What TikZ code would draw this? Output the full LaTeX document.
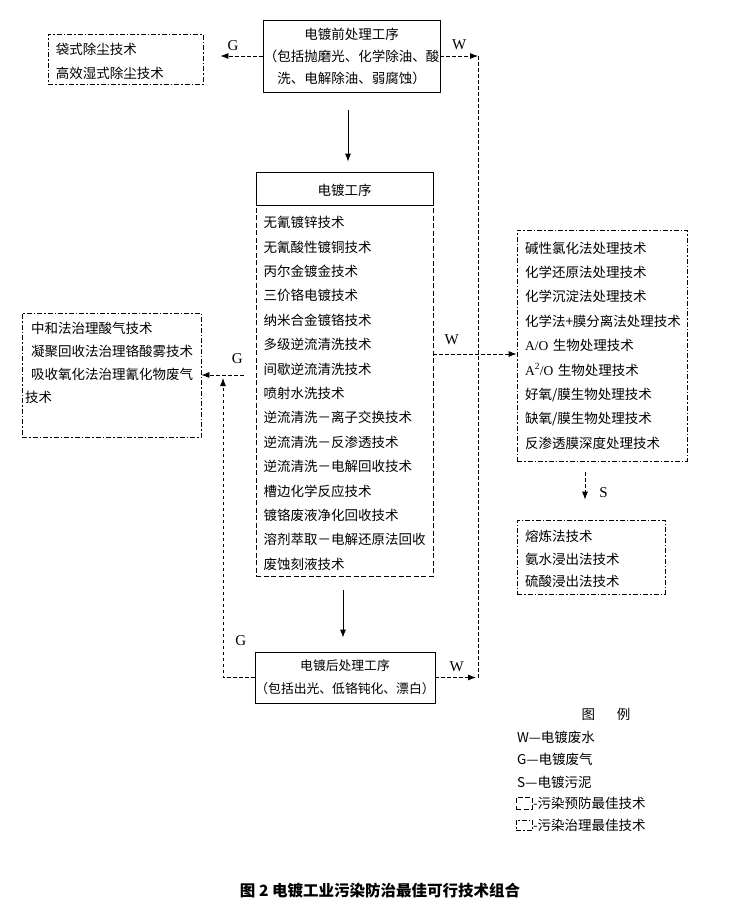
\documentclass[tikz,border=0pt]{standalone}
\usepackage{fontspec}
\setmainfont{Noto Sans CJK SC}
\newfontfamily\lat{Liberation Serif}
\usetikzlibrary{arrows.meta, positioning, calc}

\begin{document}
\begin{tikzpicture}[x=1pt, y=-1pt,
    every node/.style={font=\fontsize{13.5}{24.4}\selectfont, inner sep=0pt},
    lowtext/.style={execute at begin node={\rule{0pt}{#1}}},
    lowtext/.default=16pt,
    procbox/.style={draw, line width=0.8pt, align=center},
    prevbox/.style={draw, line width=0.8pt, dash pattern=on 5pt off 2.5pt},
    treatbox/.style={draw, line width=0.8pt, dash pattern=on 5pt off 2pt on 1.5pt off 2pt},
    wline/.style={line width=0.8pt, dash pattern=on 3.5pt off 2.5pt},
    flow/.style={wline, -{Latex[length=8pt,width=6pt]}},
    mainflow/.style={line width=0.8pt, -{Latex[length=8pt,width=6pt]}},
    lbl/.style={font=\lat\fontsize{15}{15}\selectfont},
  ]
    \useasboundingbox (0,0) rectangle (735,914);

    % Pre-treatment and dust removal
    \node[procbox, lowtext, font=\fontsize{13.5}{22}\selectfont, minimum width=177pt, minimum height=72pt] (pre) at (351.5,56)
        {电镀前处理工序\\（包括抛磨光、化学除油、酸\\洗、电解除油、弱腐蚀）};
    \node[treatbox, lowtext, align=left, inner xsep=8pt, text width=139pt, minimum height=50pt,
        font=\fontsize{13.5}{24}\selectfont] (dust) at (125.5,59) {袋式除尘技术\\高效湿式除尘技术};

    % Electroplating process
    \node[procbox, lowtext, minimum width=177pt, minimum height=33pt] (plate) at (344.5,188.5) {电镀工序};
    \node[prevbox, lowtext=17pt, align=left, inner xsep=7.5pt, text width=162pt, minimum height=371pt] (list) at (344.5,390.5)
        {无氰镀锌技术\\无氰酸性镀铜技术\\丙尔金镀金技术\\三价铬电镀技术\\纳米合金镀铬技术\\
         多级逆流清洗技术\\间歇逆流清洗技术\\喷射水洗技术\\逆流清洗－离子交换技术\\
         逆流清洗－反渗透技术\\逆流清洗－电解回收技术\\槽边化学反应技术\\
         镀铬废液净化回收技术\\溶剂萃取－电解还原法回收\\废蚀刻液技术};

    % Waste gas treatment
    \node[treatbox, inner xsep=3pt, inner ysep=9pt, font=\fontsize{13.5}{23}\selectfont] (gas) at (111.5,375)
        {\parbox[c][106pt][t]{173pt}{\hspace*{6pt}中和法治理酸气技术\\\hspace*{6pt}凝聚回收法治理铬酸雾技术\\
         \hspace*{6pt}吸收氧化法治理氰化物废气\\技术}};

    % Waste water treatment
    \node[treatbox, align=left, inner xsep=8pt, text width=154pt, minimum height=231pt] (treat) at (602,345.5)
        {碱性氯化法处理技术\\化学还原法处理技术\\化学沉淀法处理技术\\化学法+膜分离法处理技术\\
         {\lat A/O} 生物处理技术\\{\lat A\textsuperscript{2}/O} 生物处理技术\\好氧/膜生物处理技术\\
         缺氧/膜生物处理技术\\反渗透膜深度处理技术};

    % Sludge treatment
    \node[treatbox, lowtext, align=left, inner xsep=8pt, text width=132pt, minimum height=74pt,
        font=\fontsize{13.5}{22.5}\selectfont] (sludge) at (591,557) {熔炼法技术\\氨水浸出法技术\\硫酸浸出法技术};

    % Post-treatment
    \node[procbox, lowtext=17.5pt, font=\fontsize{12.8}{23}\selectfont, minimum width=180pt, minimum height=51pt] (post) at (345,677.5)
        {电镀后处理工序\\（包括出光、低铬钝化、漂白）};

    % Main flow
    \draw[mainflow, shorten <=18pt, shorten >=10pt] ([xshift=3.5pt]plate.north |- pre.south) -- ([xshift=3.5pt]plate.north);
    \draw[mainflow, shorten <=14pt, shorten >=14pt] ([xshift=-1.5pt]list.south) -- ([xshift=-1.5pt]list.south |- post.north);

    % Waste streams
    \coordinate (wtop) at (478,56);
    \coordinate (wbot) at (478,677.5);
    \coordinate (gup) at (223,378);
    \draw[flow, shorten >=17pt] (pre.west) -- node[lbl, above=5pt] (g1) {G} (pre.west -| dust.east);
    \draw[flow] (pre.east) -- node[lbl, above=6pt] (w1) {W} (wtop);
    \draw[wline] (wtop) -- (wbot);
    \draw[flow] ([yshift=36.5pt]list.east) -- node[lbl, above=9pt, pos=0.22] (w2) {W} ([yshift=36.5pt]list.east -| treat.west);
    \draw[flow, shorten <=12pt] ([yshift=15.5pt]list.west) -- node[lbl, above=11pt, pos=0.34] (g2) {G} ([yshift=15.5pt]list.west -| gas.east);
    \draw[flow] (post.west) -| node[lbl, above=31pt, pos=0.22] (g3) {G} (gup);
    \draw[flow, shorten >=2pt] (post.east) -- node[lbl, above=5pt] (w3) {W} (wbot);
    \draw[flow, shorten <=11pt, shorten >=20pt] ([xshift=-17pt]treat.south) -- node[lbl, right=14pt, yshift=-2pt] (s1) {S} ([xshift=-17pt]treat.south |- sludge.north);

    % Legend
    \node (legT) at (606,714) {图\hspace{1.6em}例};
    \node[anchor=west] (legW) at (517,737) {W—电镀废水};
    \node[anchor=west] (legG) at (517,759) {G—电镀废气};
    \node[anchor=west] (legS) at (517,782) {S—电镀污泥};
    \node[prevbox, minimum width=16pt, minimum height=12pt, anchor=west] (key1) at (516,803) {};
    \node[right=0pt of key1] (legP) {-污染预防最佳技术};
    \node[treatbox, minimum width=16pt, minimum height=10pt, anchor=west] (key2) at (516,825) {};
    \node[right=0pt of key2] (legC) {-污染治理最佳技术};

    % Caption
    \node[font=\bfseries\fontsize{15.5}{15.5}\selectfont] (title) at (380,891) {图 2 电镀工业污染防治最佳可行技术组合};

\end{tikzpicture}
\end{document}
